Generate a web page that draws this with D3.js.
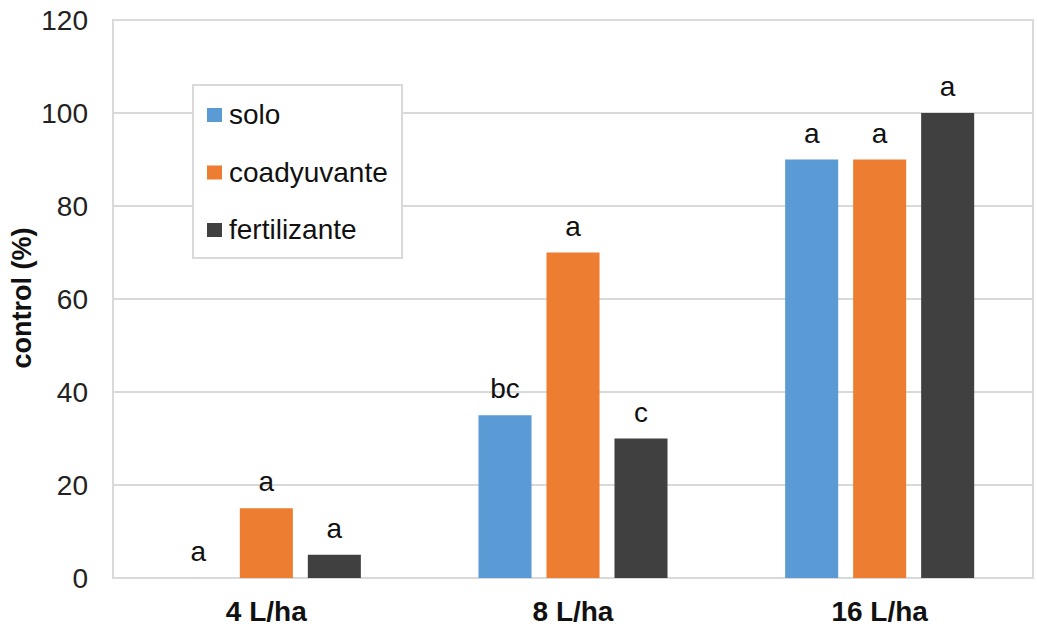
<!DOCTYPE html>
<html>
<head>
<meta charset="utf-8">
<script src="https://cdn.jsdelivr.net/npm/d3@7"></script>
<style>
  html, body { margin: 0; padding: 0; background: #fff; }
  svg { display: block; font-family: "Liberation Sans", Arial, sans-serif; }
</style>
</head>
<body>
<svg id="chart" width="1037" height="635"></svg>
<script>
// Dose groups and treatment series
const doses = ["4 L/ha", "8 L/ha", "16 L/ha"];
const treatments = ["solo", "coadyuvante", "fertilizante"];
const soloValues = [0, 35, 90];
const coadyuvanteValues = [15, 70, 90];
const fertilizanteValues = [5, 30, 100];
// Significance letters per bar
const soloLetters = ["a", "bc", "a"];
const coadyuvanteLetters = ["a", "a", "a"];
const fertilizanteLetters = ["a", "c", "a"];
const yTicks = [0, 20, 40, 60, 80, 100, 120];
const colors = ["#5B9BD5", "#ED7D31", "#404040"];

const seriesValues = [soloValues, coadyuvanteValues, fertilizanteValues];
const seriesLetters = [soloLetters, coadyuvanteLetters, fertilizanteLetters];

const rows = [];
doses.forEach((d, i) => {
  treatments.forEach((t, j) => {
    rows.push({ dose: d, treatment: t, value: seriesValues[j][i], letter: seriesLetters[j][i], color: colors[j] });
  });
});

const svg = d3.select("#chart");
const plot = { left: 113, right: 1033, top: 20, bottom: 578 };

const y = d3.scaleLinear().domain([0, 120]).range([plot.bottom, plot.top]);
const x0 = d3.scaleBand().domain(doses).range([plot.left, plot.right]).padding(0);
const x1 = d3.scaleBand().domain(treatments).range([0, x0.bandwidth()])
  .paddingInner(0.22).paddingOuter(0.865);

const gridColor = "#d9d9d9";

// Horizontal gridlines
svg.append("g")
  .selectAll("line")
  .data(yTicks)
  .join("line")
  .attr("x1", plot.left).attr("x2", plot.right)
  .attr("y1", d => y(d)).attr("y2", d => y(d))
  .attr("stroke", gridColor).attr("stroke-width", 2);

// Plot frame
svg.append("rect")
  .attr("x", plot.left).attr("y", plot.top)
  .attr("width", plot.right - plot.left).attr("height", plot.bottom - plot.top)
  .attr("fill", "none").attr("stroke", gridColor).attr("stroke-width", 2);

// Y tick labels
svg.append("g")
  .selectAll("text")
  .data(yTicks)
  .join("text")
  .attr("x", 88).attr("y", d => y(d) + 10)
  .attr("text-anchor", "end")
  .attr("font-size", 28).attr("fill", "#222")
  .text(d => d);

// Bars
const groups = svg.append("g")
  .selectAll("g")
  .data(doses)
  .join("g")
  .attr("transform", d => `translate(${x0(d)},0)`);

groups.selectAll("rect")
  .data(d => rows.filter(r => r.dose === d))
  .join("rect")
  .attr("x", r => x1(r.treatment))
  .attr("width", x1.bandwidth())
  .attr("y", r => y(r.value))
  .attr("height", r => y(0) - y(r.value))
  .attr("fill", r => r.color);

groups.selectAll("text")
  .data(d => rows.filter(r => r.dose === d))
  .join("text")
  .attr("x", r => x1(r.treatment) + x1.bandwidth() / 2)
  .attr("y", r => y(r.value) - 17)
  .attr("text-anchor", "middle")
  .attr("font-size", 28).attr("fill", "#111")
  .text(r => r.letter);

// Category labels
svg.append("g")
  .selectAll("text")
  .data(doses)
  .join("text")
  .attr("x", d => x0(d) + x0.bandwidth() / 2)
  .attr("y", 621)
  .attr("text-anchor", "middle")
  .attr("font-size", 28).attr("font-weight", "bold").attr("fill", "#111")
  .text(d => d);

// Y axis title
svg.append("text")
  .attr("transform", "translate(31,298) rotate(-90)")
  .attr("text-anchor", "middle")
  .attr("font-size", 27).attr("font-weight", "bold").attr("fill", "#111")
  .text("control (%)");

// Legend
const legend = svg.append("g").attr("transform", "translate(193,85)");
legend.append("rect")
  .attr("width", 209).attr("height", 173)
  .attr("fill", "#fff").attr("stroke", gridColor).attr("stroke-width", 2);
const ly = d3.scalePoint().domain(treatments).range([30, 145]);
const items = legend.selectAll("g.item")
  .data(treatments)
  .join("g").attr("class", "item")
  .attr("transform", d => `translate(0,${ly(d)})`);
items.append("rect")
  .attr("x", 14).attr("y", -7).attr("width", 15).attr("height", 14)
  .attr("fill", (d, i) => colors[i]);
items.append("text")
  .attr("x", 36).attr("y", 9)
  .attr("font-size", 28).attr("fill", "#111")
  .text(d => d);
</script>
</body>
</html>
